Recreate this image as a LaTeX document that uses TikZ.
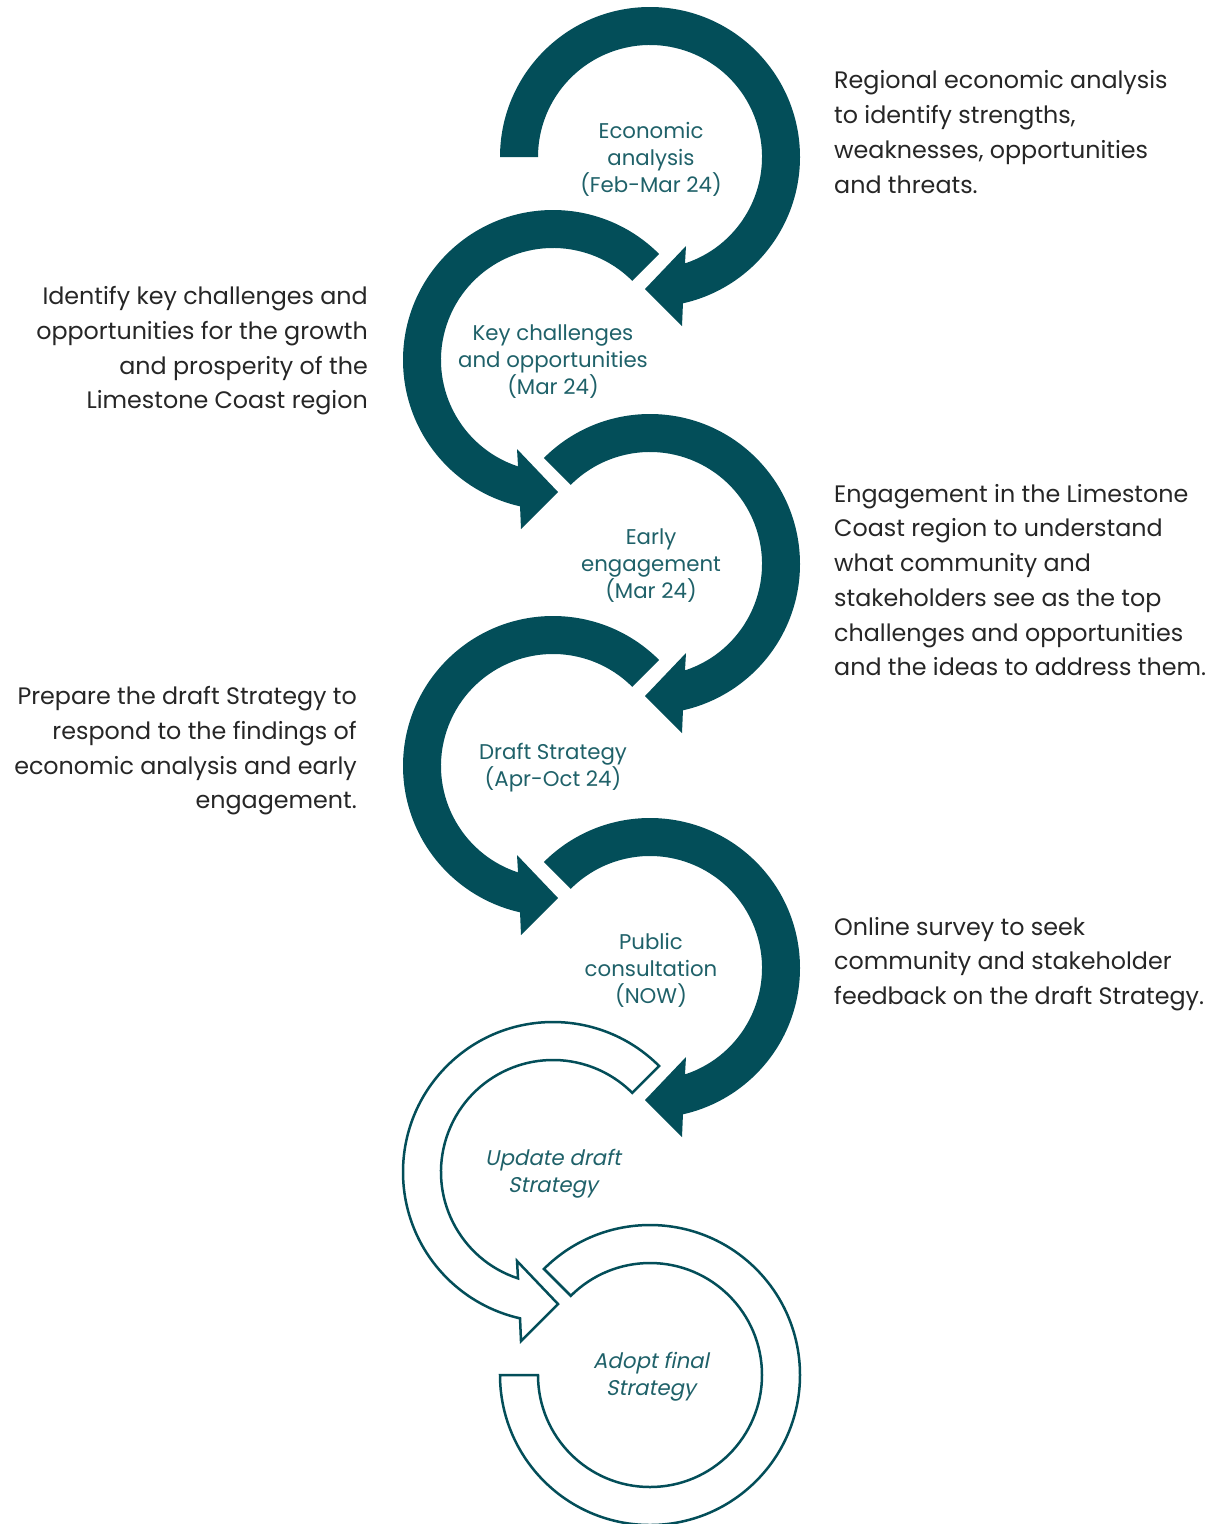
\documentclass[tikz,border=0pt]{standalone}
\usepackage{fontspec}
\setmainfont{Poppins}[AutoFakeSlant=0.2]
\usepackage{xcolor}
\usepackage{tikz}
\usetikzlibrary{calc}
\definecolor{cycleteal}{HTML}{034E59}
\definecolor{labelteal}{HTML}{1F6169}
\definecolor{notegrey}{HTML}{262626}

\begin{document}
\begin{tikzpicture}[x=1pt,y=1pt,
        solidstep/.style={fill=cycleteal},
        openstep/.style={draw=cycleteal,line width=2.5pt,fill=white},
        steplabel/.style={text=labelteal,align=center,inner sep=0pt,font=\fontsize{21.3}{27}\selectfont},
        note/.style={text=notegrey,inner sep=0pt,font=\fontsize{23.8}{34.7}\selectfont}]
    \useasboundingbox (0,0) rectangle (1214,-1524);
    \coordinate (c1) at (650,-157);
    \coordinate (c2) at (553,-360);
    \coordinate (c3) at (650,-564);
    \coordinate (c4) at (553,-766);
    \coordinate (c5) at (650,-968);
    \coordinate (c6) at (553,-1172);
    \coordinate (c7) at (650,-1375);
    % right hand turns
    \fill[solidstep,shift={(c1)}] (180:150) arc[start angle=180,end angle=-77.3,radius=150] -- (32,-169) -- (-5,-132) -- (36,-89) -- (-71.8:112) arc[start angle=-71.8,end angle=180,radius=112] -- cycle;
    \fill[solidstep,shift={(c3)}] (135:150) arc[start angle=135,end angle=-77.3,radius=150] -- (32,-169) -- (-5,-132) -- (36,-89) -- (-71.8:112) arc[start angle=-71.8,end angle=135,radius=112] -- cycle;
    \fill[solidstep,shift={(c5)}] (135:150) arc[start angle=135,end angle=-77.3,radius=150] -- (32,-169) -- (-5,-132) -- (36,-89) -- (-71.8:112) arc[start angle=-71.8,end angle=135,radius=112] -- cycle;
    % left hand turns
    \fill[solidstep,shift={(c2)}] (45:150) arc[start angle=45,end angle=257.3,radius=150] -- (-32,-169) -- (5,-132) -- (-36,-89) -- (251.8:112) arc[start angle=251.8,end angle=45,radius=112] -- cycle;
    \fill[solidstep,shift={(c4)}] (45:150) arc[start angle=45,end angle=257.3,radius=150] -- (-32,-169) -- (5,-132) -- (-36,-89) -- (251.8:112) arc[start angle=251.8,end angle=45,radius=112] -- cycle;
    \draw[openstep,shift={(c6)}] (45:150) arc[start angle=45,end angle=257.3,radius=150] -- (-32,-169) -- (5,-132) -- (-36,-89) -- (251.8:112) arc[start angle=251.8,end angle=45,radius=112] -- cycle;
    % last one has no head
    \draw[openstep,shift={(c7)}] (135:150) arc[start angle=135,end angle=-180,radius=150] -- (180:112) arc[start angle=-180,end angle=135,radius=112] -- cycle;

    \node[steplabel] (econ) at ($(c1)+(1,-2)$) {Economic\\analysis\\(Feb-Mar 24)};
    \node[steplabel] (keych) at ($(c2)+(0,-2)$) {Key challenges\\and opportunities\\(Mar 24)};
    \node[steplabel] (early) at ($(c3)+(1,-2)$) {Early\\engagement\\(Mar 24)};
    \node[steplabel] (draft) at ($(c4)+(0,-2)$) {Draft Strategy\\(Apr-Oct 24)};
    \node[steplabel] (public) at ($(c5)+(1,-2)$) {Public\\consultation\\(NOW)};
    \node[steplabel,font=\fontsize{21.3}{27}\selectfont\itshape] (update) at ($(c6)+(0,-2)$) {Update draft\\Strategy};
    \node[steplabel,font=\fontsize{21.3}{27}\selectfont\itshape] (adopt) at ($(c7)+(1,-2)$) {Adopt final\\Strategy};

    \node[note,anchor=west,align=left] (econnote) at (834,-132) {Regional economic analysis\\to identify strengths,\\weaknesses, opportunities\\and threats.};
    \node[note,anchor=east,align=right] (keychnote) at (368,-351) {Identify key challenges and\\opportunities for the growth\\and prosperity of the\\Limestone Coast region};
    \node[note,anchor=west,align=left] (earlynote) at (834,-580) {Engagement in the Limestone\\Coast region to understand\\what community and\\stakeholders see as the top\\challenges and opportunities\\and the ideas to address them.};
    \node[note,anchor=east,align=right] (draftnote) at (357,-751) {Prepare the draft Strategy to\\respond to the findings of\\economic analysis and early\\engagement.};
    \node[note,anchor=west,align=left] (publicnote) at (834,-964) {Online survey to seek\\community and stakeholder\\feedback on the draft Strategy.};
\end{tikzpicture}
\end{document}
